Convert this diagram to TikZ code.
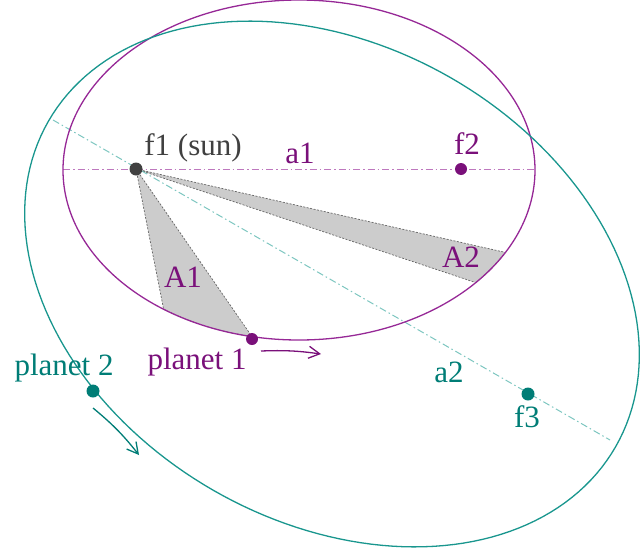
\documentclass[tikz,border=0pt]{standalone}
\usepackage{fontspec}
\setmainfont{Liberation Serif}
\usetikzlibrary{arrows.meta}
\definecolor{pur}{RGB}{122,16,122}
\definecolor{purline}{RGB}{150,40,150}
\definecolor{purlight}{RGB}{190,120,190}
\definecolor{tea}{RGB}{0,125,118}
\definecolor{tealine}{RGB}{25,150,142}
\definecolor{tealight}{RGB}{125,198,192}
\definecolor{sungray}{RGB}{64,64,64}
\definecolor{areafill}{RGB}{204,204,204}
\begin{document}
\begin{tikzpicture}[x=1pt,y=-1pt,
  font=\fontsize{31}{31}\selectfont,
  dot/.style={circle,inner sep=0pt,minimum size=12pt},
  lbl/.style={anchor=base,inner sep=0pt},
  area/.style={fill=areafill,draw=sungray!80,line width=0.7pt,dash pattern=on 2pt off 1.5pt},
  orbit/.style={line width=1.3pt},
  axisline/.style={line width=1pt,dash pattern=on 7pt off 3pt on 1.5pt off 3pt},
  motion/.style={line width=1.3pt,-{Straight Barb[length=11pt,width=12pt,line width=1.3pt]}}]
\useasboundingbox (0,0) rectangle (640,549);
% shaded areas
\path[area] (136,169) -- plot[domain=125:101.5,samples=30,variable=\t] ({299+236*cos(\t)},{170+170*sin(\t)}) -- cycle;
\path[area] (136,169) -- plot[domain=29:41.5,samples=20,variable=\t] ({299+236*cos(\t)},{170+170*sin(\t)}) -- cycle;
% axes
\draw[axisline,purlight] (63,169) -- (535,169);
\draw[axisline,tealight] (53,120) -- (610,440);
% orbits
\draw[orbit,purline] (299,170) ellipse [x radius=236pt, y radius=170pt];
\draw[orbit,tealine] plot[domain=0:360,samples=181,variable=\t]
  ({332+327*cos(\t)*0.8672-238*sin(\t)*0.4979},{284+327*cos(\t)*0.4979+238*sin(\t)*0.8672}) -- cycle;
% dots
\node[dot,fill=sungray,minimum size=13pt] (sun) at (136,169) {};
\node[dot,fill=pur] (f2) at (461,169) {};
\node[dot,fill=pur] (p1) at (252,339) {};
\node[dot,fill=tea,minimum size=13pt] (f3) at (528,394) {};
\node[dot,fill=tea,minimum size=13pt] (p2) at (93,391) {};
% labels
\node[lbl,text=sungray] (lsun) at (193,155) {f1 (sun)};
\node[lbl,text=pur] (la1) at (300,163) {a1};
\node[lbl,text=pur] (lf2) at (467,154) {f2};
\node[lbl,text=pur] (lA1) at (183,287) {A1};
\node[lbl,text=pur] (lA2) at (461,267) {A2};
\node[lbl,text=pur] (lp1) at (197,369) {planet 1};
\node[lbl,text=tea] (lp2) at (64,375) {planet 2};
\node[lbl,text=tea] (la2) at (449,382) {a2};
\node[lbl,text=tea] (lf3) at (527,427) {f3};
% motion arrows
\coordinate (m1s) at (261,351);
\coordinate (m1e) at (321,354);
\coordinate (m2s) at (93,408);
\coordinate (m2e) at (139,455);
\draw[motion,pur] (m1s) to[bend left=5] (m1e);
\draw[motion,tea] (m2s) to[bend left=6] (m2e);
\end{tikzpicture}
\end{document}
